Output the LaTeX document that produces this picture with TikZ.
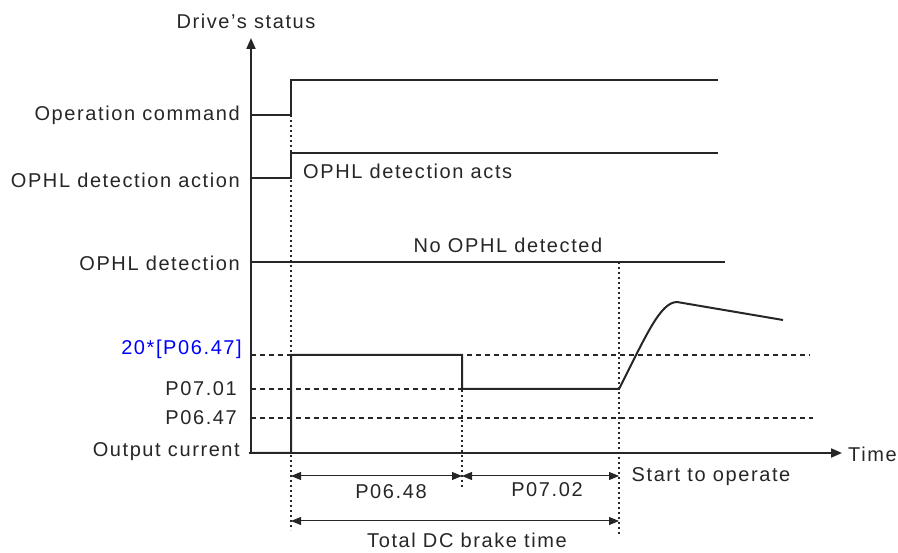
\documentclass[tikz,border=0pt]{standalone}
\usepackage{fontspec}
\setmainfont{Liberation Sans}[LetterSpace=8]
\usetikzlibrary{arrows.meta, positioning, calc}

\begin{document}
\begin{tikzpicture}[
    x=1pt, y=-1pt,
    txt/.style={font=\fontsize{20}{22}\selectfont, inner sep=0pt, text=black!85},
    lbl/.style={txt, anchor=east},
    axis/.style={line width=2pt, draw=black!85, -{Triangle[length=11pt, width=9pt]}},
    sig/.style={line width=2pt, draw=black!85, line join=miter},
    level/.style={line width=1.5pt, draw=black!85, dash pattern=on 5pt off 4pt},
    marker/.style={line width=1.5pt, draw=black!85, dash pattern=on 2.5pt off 2.5pt},
    span/.style={line width=1pt, draw=black!85, {Triangle[length=10pt, width=8pt]}-{Triangle[length=10pt, width=8pt]}}
]
\useasboundingbox (0,0) rectangle (898,553);

% axes
\coordinate (origin) at (251,453);
\coordinate (ytop) at (251,38);
\coordinate (xend) at (842,453);
\draw[axis] ($(origin)+(0,1)$) -- (ytop);
\draw[axis] ($(origin)+(-2,0)$) -- (xend);
\node[txt, anchor=south] (ystatus) at (246,29) {Drive's status};
\node[txt, anchor=west] (xtime) at (848,454) {Time};

% time marks
\coordinate (t0) at (291,453);
\coordinate (t1) at (462,453);
\coordinate (t2) at (619,453);

% operation command
\node[lbl] (opcmd) at (240,115) {Operation command};
\draw[sig] (251,115) -- (291,115) -- (291,80) -- (718,80);

% OPHL detection action
\node[lbl] (ophlact) at (240,180) {OPHL detection action};
\draw[sig] (251,178) -- (291,178) -- (291,153) -- (718,153);
\node[txt, anchor=west] (acts) at (303,171) {OPHL detection acts};

% OPHL detection
\node[lbl] (ophldet) at (240,263) {OPHL detection};
\draw[sig] (251,262) -- (725,262);
\node[txt] (nodet) at (508,245) {No OPHL detected};

% output current levels
\node[lbl, text=blue] (lvlhigh) at (242,349) {20*[P06.47]};
\node[lbl] (lvlmid) at (237,389) {P07.01};
\node[lbl] (lvllow) at (237,418) {P06.47};
\node[lbl] (outcur) at (240,452) {Output current};
\draw[level] (251,355) -- (810,355);
\draw[level] (251,389) -- (462,389);
\draw[level] (251,418) -- (813,418);

% output current
\draw[sig] (251,453) -- (291,453) -- (291,355) -- (462,355) -- (462,389) -- (619,389)
    .. controls (645,338) and (660,302) .. (677,302) -- (783,320);

% vertical markers
\draw[marker] (291,100) -- (291,530);
\draw[marker] (462,355) -- (462,488);
\draw[marker] (619,262) -- (619,535);

% time spans
\draw[span] (t0 |- 0,476) -- (t1 |- 0,476);
\draw[span] (t1 |- 0,476) -- (t2 |- 0,476);
\draw[span] (t0 |- 0,521) -- (t2 |- 0,521);
\node[txt] (dcbrake) at (391,492) {P06.48};
\node[txt] (dcwait) at (547,490) {P07.02};
\node[txt] (dctotal) at (467,540) {Total DC brake time};
\node[txt] (start) at (711,477) {Start to operate};

\end{tikzpicture}
\end{document}
